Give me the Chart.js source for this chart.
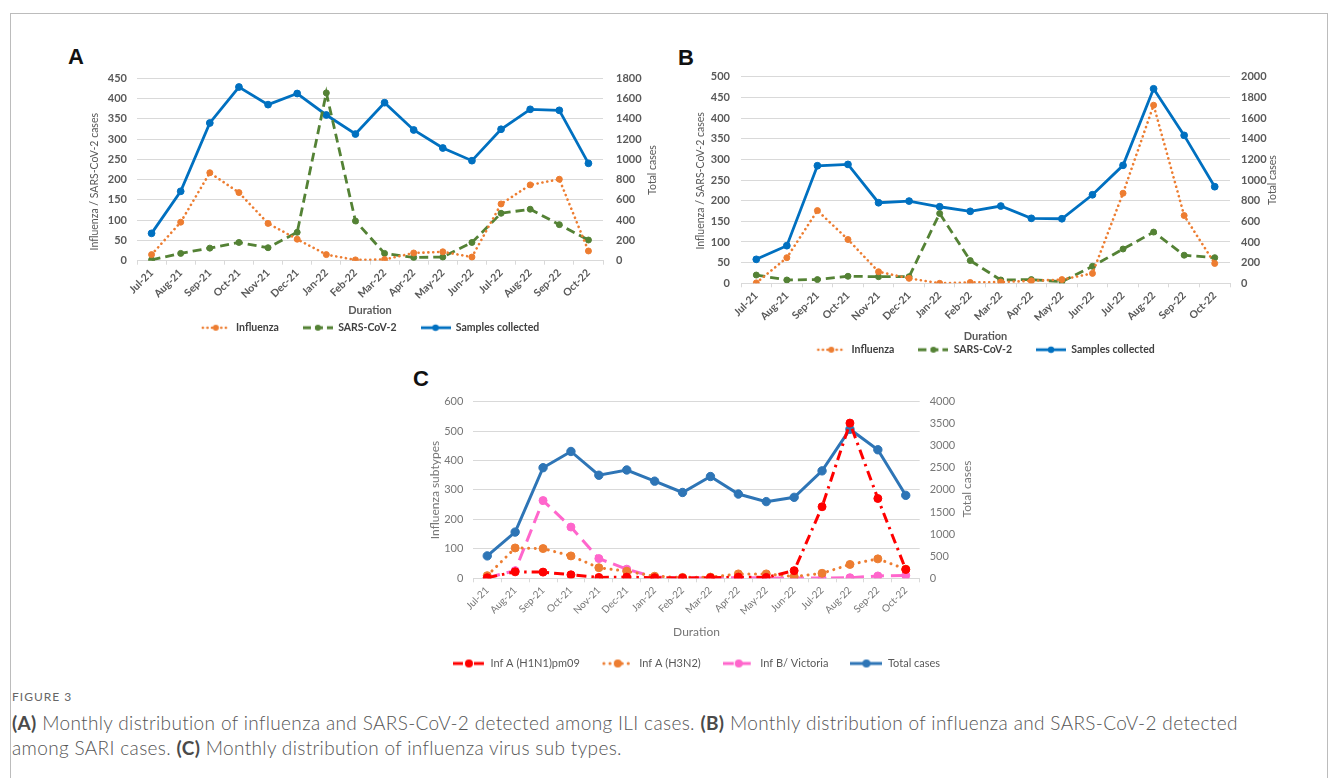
<!DOCTYPE html>
<html>
<head>
<meta charset="utf-8">
<script src="https://cdn.jsdelivr.net/npm/chart.js@4.4.1/dist/chart.umd.min.js"></script>
<style>
html,body{margin:0;padding:0;background:#fff;width:1335px;height:778px;overflow:hidden;}
#frame{position:absolute;left:10px;top:13px;width:1318px;height:800px;border:1px solid #bcbcbc;box-sizing:border-box;}
canvas{position:absolute;}
.letter{position:absolute;font-family:"Liberation Sans",Arial,sans-serif;font-weight:bold;font-size:22px;line-height:1;color:#111;}
#figlabel{position:absolute;left:12px;top:689px;font-family:Lato,sans-serif;font-size:12px;line-height:16px;letter-spacing:1px;color:#666;}
#caption{position:absolute;left:12px;top:710px;font-family:Lato,sans-serif;font-weight:300;font-size:19px;letter-spacing:0.35px;line-height:25px;color:#555;white-space:nowrap;}
#caption b{color:#4a4a4a;font-weight:bold;}
</style>
</head>
<body>
<div id="frame"></div>
<div class="letter" style="left:68px;top:46px;">A</div>
<div class="letter" style="left:678px;top:47px;">B</div>
<div class="letter" style="left:413px;top:368px;">C</div>
<canvas id="chartA" width="620" height="288" style="left:60px;top:55px;"></canvas>
<canvas id="chartB" width="611" height="310" style="left:680px;top:55px;"></canvas>
<canvas id="chartC" width="573" height="294" style="left:410px;top:385px;"></canvas>
<div id="figlabel">FIGURE 3</div>
<div id="caption"><b>(A)</b> Monthly distribution of influenza and SARS-CoV-2 detected among ILI cases. <b>(B)</b> Monthly distribution of influenza and SARS-CoV-2 detected<br>among SARI cases. <b>(C)</b> Monthly distribution of influenza virus sub types.</div>
<script>
// ---------- DATA ----------
const months = ['Jul-21','Aug-21','Sep-21','Oct-21','Nov-21','Dec-21','Jan-22','Feb-22','Mar-22','Apr-22','May-22','Jun-22','Jul-22','Aug-22','Sep-22','Oct-22'];

// Panel A (ILI)
const iliInfluenza = [15, 95, 217, 168, 92, 53, 15, 2, 3, 19, 22, 9, 140, 187, 201, 24];
const iliSars      = [2, 18, 31, 45, 32, 70, 414, 98, 18, 8, 9, 45, 117, 127, 89, 51];
const iliSamples   = [270, 685, 1359, 1714, 1540, 1650, 1438, 1250, 1559, 1290, 1112, 987, 1297, 1494, 1484, 961];

// Panel B (SARI)
const sariInfluenza = [1, 62, 176, 106, 28, 12, 0, 2, 3, 6, 9, 24, 218, 431, 164, 48];
const sariSars      = [20, 8, 9, 17, 16, 16, 169, 55, 8, 9, 4, 41, 83, 124, 68, 62];
const sariSamples   = [232, 364, 1138, 1151, 780, 796, 741, 697, 748, 629, 625, 857, 1142, 1883, 1432, 935];

// Panel C (subtypes)
const subH1N1  = [2, 22, 21, 12, 3, 4, 2, 1, 2, 4, 3, 26, 243, 527, 271, 30];
const subH3N2  = [9, 103, 101, 76, 36, 24, 7, 3, 4, 15, 15, 6, 17, 47, 66, 31];
const subBVic  = [2, 26, 264, 174, 67, 31, 4, 2, 1, 2, 1, 1, 1, 2, 8, 10];
const subTotal = [507, 1046, 2504, 2871, 2333, 2452, 2199, 1943, 2304, 1907, 1736, 1833, 2432, 3374, 2910, 1878];

// Axis tick ranges
const axisA = {leftMax: 450, leftStep: 50, rightMax: 1800, rightStep: 200};
const axisB = {leftMax: 500, leftStep: 50, rightMax: 2000, rightStep: 200};
const axisC = {leftMax: 600, leftStep: 100, rightMax: 4000, rightStep: 500};

// ---------- STYLE ----------
Chart.defaults.font.family = 'Lato, "Open Sans", sans-serif';
const ORANGE = '#ED7D31', GREEN = '#548235', BLUE = '#0070C0', BLUE_C = '#2E75B6', RED = '#FF0000', PINK = '#FF66CC';
const GRID = '#d9d9d9';

function makeIcon(color, dash, lw, w, r, round) {
  const c = document.createElement('canvas');
  c.width = w; c.height = 12;
  const g = c.getContext('2d');
  g.strokeStyle = color; g.lineWidth = lw; g.setLineDash(dash);
  g.lineCap = round ? 'round' : 'butt';
  g.beginPath(); g.moveTo(round ? 2 : 0, 6); g.lineTo(w - (round ? 2 : 0), 6); g.stroke();
  g.setLineDash([]); g.fillStyle = color;
  g.beginPath(); g.arc(w / 2, 6, r, 0, Math.PI * 2); g.fill();
  return c;
}

const axisTitles = {
  id: 'axisTitles',
  afterDraw(chart, args, opts) {
    const ctx = chart.ctx;
    (opts.items || []).forEach(it => {
      ctx.save();
      ctx.translate(it.x, it.y);
      ctx.rotate(-Math.PI / 2);
      ctx.font = it.font;
      ctx.fillStyle = it.color;
      ctx.textAlign = 'center';
      ctx.textBaseline = 'middle';
      ctx.fillText(it.text, 0, 0);
      ctx.restore();
    });
  }
};

function lineDs(label, data, axis, color, kind, width, radius) {
  const ds = {
    label, data, yAxisID: axis,
    borderColor: color, backgroundColor: color,
    borderWidth: width, tension: 0,
    pointRadius: radius, pointHoverRadius: radius,
    pointBackgroundColor: color, pointBorderColor: color, pointBorderWidth: 1
  };
  if (kind === 'dot') { ds.borderDash = [0.1, 4.8]; ds.borderCapStyle = 'round'; }
  if (kind === 'dash') { ds.borderDash = [9, 5]; }
  if (kind === 'dotC') { ds.borderDash = [0.1, 6.5]; ds.borderCapStyle = 'round'; }
  if (kind === 'dashC') { ds.borderDash = [13, 7]; }
  if (kind === 'dashdot') { ds.borderDash = [10, 5, 2.5, 5]; }
  return ds;
}

const plainNum = v => String(v);

function buildOptions(cfg) {
  return {
    responsive: false,
    animation: false,
    layout: {padding: {top: cfg.padTop, bottom: 0, left: 0, right: 0}},
    plugins: {
      tooltip: {enabled: false},
      legend: {
        position: 'bottom',
        labels: {
          usePointStyle: true,
          pointStyleWidth: cfg.iconW,
          padding: cfg.legendPad,
          color: cfg.legendColor,
          font: {size: cfg.legendSize, weight: cfg.legendWeight},
          generateLabels(chart) {
            const items = Chart.defaults.plugins.legend.labels.generateLabels(chart);
            items.forEach((it, i) => { it.pointStyle = cfg.icons[i]; });
            return items;
          }
        }
      },
      axisTitles: {items: cfg.titles}
    },
    scales: {
      x: {
        offset: true,
        grid: {drawOnChartArea: false, drawTicks: true, tickLength: 4, color: GRID, offset: true},
        border: {display: true, color: GRID},
        ticks: {autoSkip: false, minRotation: 45, maxRotation: 45, padding: 2, color: cfg.tickColor, font: {size: cfg.xTickSize, weight: cfg.tickWeight}},
        title: {display: true, text: 'Duration', color: cfg.tickColor, font: {size: cfg.durSize, weight: cfg.durWeight}, padding: {top: 0, bottom: cfg.durPad}},
        afterFit(s) { s.height = cfg.xH; }
      },
      y: {
        position: 'left', min: 0, max: cfg.axis.leftMax,
        grid: {color: GRID, drawTicks: false},
        border: {display: false},
        ticks: {stepSize: cfg.axis.leftStep, padding: cfg.lPad, color: cfg.tickColor, font: {size: cfg.tickSize, weight: cfg.tickWeight}, callback: plainNum},
        afterFit(s) { s.width = cfg.lW; }
      },
      y1: {
        position: 'right', min: 0, max: cfg.axis.rightMax,
        grid: {drawOnChartArea: false, drawTicks: false},
        border: {display: false},
        ticks: {stepSize: cfg.axis.rightStep, padding: cfg.rPad, color: cfg.tickColor, font: {size: cfg.tickSize, weight: cfg.tickWeight}, callback: plainNum},
        afterFit(s) { s.width = cfg.rW; }
      }
    }
  };
}

const ABicons = [
  makeIcon(ORANGE, [0.1, 4.5], 2.6, 30, 3, true),
  makeIcon(GREEN, [8, 4], 2.8, 30, 3, false),
  makeIcon(BLUE, [], 2.8, 30, 3.2, false)
];
const titleFontAB = '10.5px Lato, sans-serif';
const titleColor = '#595959';

// Panel A
new Chart(document.getElementById('chartA'), {
  type: 'line',
  data: {
    labels: months,
    datasets: [
      lineDs('Influenza', iliInfluenza, 'y', ORANGE, 'dot', 2.6, 3),
      lineDs('SARS-CoV-2', iliSars, 'y', GREEN, 'dash', 2.8, 3),
      lineDs('Samples collected', iliSamples, 'y1', BLUE, 'solid', 2.8, 3.4)
    ]
  },
  options: buildOptions({
    axis: axisA, padTop: 23.3, xH: 37.8, durPad: -18.1, lW: 77, rW: 77, lPad: 10, rPad: 13,
    iconW: 30, legendPad: 24, legendSize: 10.5, legendWeight: 'bold', legendColor: '#404040',
    tickColor: '#595959', tickSize: 11, xTickSize: 10.5, tickWeight: 'bold', durSize: 11, durWeight: 'bold',
    icons: ABicons,
    titles: [
      {text: 'Influenza / SARS-CoV-2 cases', x: 34.3, y: 126.7, font: titleFontAB, color: titleColor},
      {text: 'Total cases', x: 593, y: 115, font: titleFontAB, color: titleColor}
    ]
  }),
  plugins: [axisTitles]
});

// Panel B
new Chart(document.getElementById('chartB'), {
  type: 'line',
  data: {
    labels: months,
    datasets: [
      lineDs('Influenza', sariInfluenza, 'y', ORANGE, 'dot', 2.6, 3),
      lineDs('SARS-CoV-2', sariSars, 'y', GREEN, 'dash', 2.8, 3),
      lineDs('Samples collected', sariSamples, 'y1', BLUE, 'solid', 2.8, 3.4)
    ]
  },
  options: buildOptions({
    axis: axisB, padTop: 21.7, xH: 37.2, durPad: -22.1, lW: 61, rW: 61, lPad: 11, rPad: 11,
    iconW: 30, legendPad: 24, legendSize: 10.5, legendWeight: 'bold', legendColor: '#404040',
    tickColor: '#595959', tickSize: 11, xTickSize: 10.5, tickWeight: 'bold', durSize: 11, durWeight: 'bold',
    icons: ABicons,
    titles: [
      {text: 'Influenza / SARS-CoV-2 cases', x: 21, y: 125.8, font: titleFontAB, color: titleColor},
      {text: 'Total cases', x: 592.7, y: 125, font: titleFontAB, color: titleColor}
    ]
  }),
  plugins: [axisTitles]
});

// Panel C
const Cicons = [
  makeIcon(RED, [10, 4, 3, 4], 3, 32, 4, false),
  makeIcon(ORANGE, [0.1, 6], 3, 32, 4, true),
  makeIcon(PINK, [11, 6], 3, 32, 4, false),
  makeIcon(BLUE_C, [], 3, 32, 4, false)
];
const titleFontC = '12px Lato, sans-serif';
new Chart(document.getElementById('chartC'), {
  type: 'line',
  data: {
    labels: months,
    datasets: [
      lineDs('Inf A (H1N1)pm09', subH1N1, 'y', RED, 'dashdot', 3, 4),
      lineDs('Inf A (H3N2)', subH3N2, 'y', ORANGE, 'dotC', 3, 4),
      lineDs('Inf B/ Victoria', subBVic, 'y', PINK, 'dashC', 3, 4),
      lineDs('Total cases', subTotal, 'y1', BLUE_C, 'solid', 3, 4.2)
    ]
  },
  options: buildOptions({
    axis: axisC, padTop: 15, xH: 57.7, durPad: -3.2, lW: 63.3, rW: 63.3, lPad: 10, rPad: 10,
    iconW: 32, legendPad: 22, legendSize: 11, legendWeight: 'normal', legendColor: '#595959',
    tickColor: '#767676', tickSize: 11, xTickSize: 10, tickWeight: 'normal', durSize: 12, durWeight: 'normal',
    icons: Cicons,
    titles: [
      {text: 'Influenza subtypes', x: 25, y: 105, font: titleFontC, color: '#767676'},
      {text: 'Total cases', x: 557.3, y: 104, font: titleFontC, color: '#767676'}
    ]
  }),
  plugins: [axisTitles]
});
</script>
</body>
</html>
